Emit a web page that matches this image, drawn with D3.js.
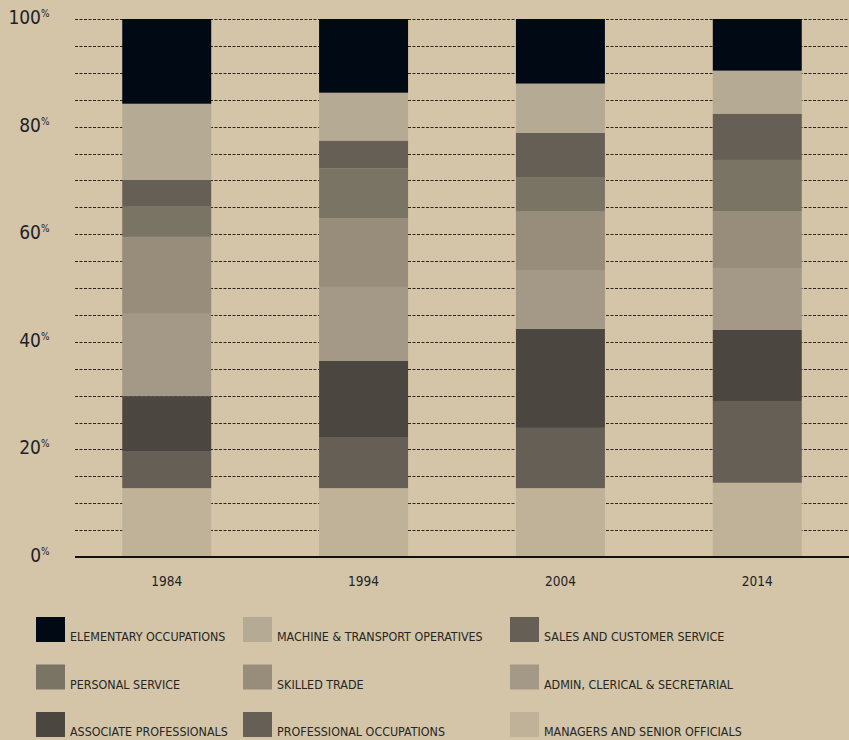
<!DOCTYPE html>
<html>
<head>
<meta charset="utf-8">
<script src="https://cdn.jsdelivr.net/npm/d3@7"></script>
<style>
  html, body { margin: 0; padding: 0; background: #d4c5a8; }
  svg { display: block; }
</style>
</head>
<body>
<svg width="849" height="740"></svg>
<script>
const years = ["1984", "1994", "2004", "2014"];

// stacked bottom to top
const categories = [
    "MANAGERS AND SENIOR OFFICIALS",
    "PROFESSIONAL OCCUPATIONS",
    "ASSOCIATE PROFESSIONALS",
    "ADMIN, CLERICAL & SECRETARIAL",
    "SKILLED TRADE",
    "PERSONAL SERVICE",
    "SALES AND CUSTOMER SERVICE",
    "MACHINE & TRANSPORT OPERATIVES",
    "ELEMENTARY OCCUPATIONS"
];

const managers     = [12.8, 12.8, 12.8, 13.8];
const professional = [6.9, 9.5, 11.2, 15.2];
const associate    = [10.2, 14.2, 18.4, 13.2];
const admin        = [15.3, 13.7, 10.8, 11.5];
const skilled      = [14.3, 12.8, 11.0, 10.6];
const personal     = [5.6, 9.2, 6.3, 9.5];
const sales        = [5.0, 5.2, 8.35, 8.6];
const machine      = [14.15, 8.9, 9.15, 8.0];
const elementary   = [15.75, 13.7, 12.0, 9.6];

const seriesValues = [managers, professional, associate, admin, skilled, personal, sales, machine, elementary];

const colors = ["#bfb299", "#665f55", "#4b4740", "#a39986", "#988d7a", "#7a7464", "#665f55", "#b5aa93", "#010a14"];

// legend reads left to right, top to bottom
const legendOrder = [
    "ELEMENTARY OCCUPATIONS", "MACHINE & TRANSPORT OPERATIVES", "SALES AND CUSTOMER SERVICE",
    "PERSONAL SERVICE", "SKILLED TRADE", "ADMIN, CLERICAL & SECRETARIAL",
    "ASSOCIATE PROFESSIONALS", "PROFESSIONAL OCCUPATIONS", "MANAGERS AND SENIOR OFFICIALS"
];

const yTicks = [0, 20, 40, 60, 80, 100];

const svg = d3.select("svg");
const font = "'DejaVu Sans Condensed', 'Liberation Sans Narrow', sans-serif";

const rows = years.map((yr, i) => {
    const r = { year: yr };
    categories.forEach((c, k) => r[c] = seriesValues[k][i]);
    return r;
});
const stacked = d3.stack().keys(categories)(rows);

const x = d3.scaleBand().domain(years).range([75, 849]).paddingInner(0.548).paddingOuter(0.24);
const y = d3.scaleLinear().domain([0, 100]).range([557, 19]);
const color = d3.scaleOrdinal().domain(categories).range(colors);

// dashed grid
svg.append("g")
    .selectAll("line")
    .data(d3.range(5, 101, 5))
    .join("line")
    .attr("x1", 75).attr("x2", 849)
    .attr("y1", d => Math.round(y(d)) + 0.5)
    .attr("y2", d => Math.round(y(d)) + 0.5)
    .attr("stroke", "#2a2621")
    .attr("stroke-width", 1)
    .attr("stroke-dasharray", "3,1.5");

// bars
svg.append("g")
    .selectAll("g")
    .data(stacked)
    .join("g")
    .attr("fill", d => color(d.key))
    .selectAll("rect")
    .data(d => d)
    .join("rect")
    .attr("x", d => x(d.data.year))
    .attr("width", x.bandwidth())
    .attr("y", d => y(d[1]))
    .attr("height", d => y(d[0]) - y(d[1]));

// baseline
svg.append("line")
    .attr("x1", 75).attr("x2", 849)
    .attr("y1", y(0)).attr("y2", y(0))
    .attr("stroke", "#111")
    .attr("stroke-width", 2);

// y labels
svg.append("g")
    .selectAll("text")
    .data(yTicks)
    .join("text")
    .attr("x", 41)
    .attr("y", d => y(d) + 5)
    .attr("text-anchor", "end")
    .attr("font-family", font)
    .attr("font-size", 19)
    .attr("font-weight", 300)
    .attr("fill", "#1e2228")
    .text(d => d);
svg.append("g")
    .selectAll("text")
    .data(yTicks)
    .join("text")
    .attr("x", 41)
    .attr("y", d => y(d) - 2)
    .attr("font-family", font)
    .attr("font-size", 10)
    .attr("fill", "#1e2228")
    .text("%");

// x labels
svg.append("g")
    .selectAll("text")
    .data(years)
    .join("text")
    .attr("x", d => x(d) + x.bandwidth() / 2)
    .attr("y", 586)
    .attr("text-anchor", "middle")
    .attr("font-family", font)
    .attr("font-size", 13.5)
    .attr("fill", "#222")
    .text(d => d);

// legend
const legend = svg.append("g")
    .selectAll("g")
    .data(legendOrder)
    .join("g")
    .attr("transform", (d, i) => `translate(${[36, 243, 510][i % 3]},${617 + Math.floor(i / 3) * 47.5})`);
legend.append("rect")
    .attr("width", 29).attr("height", 25)
    .attr("fill", d => color(d));
legend.append("text")
    .attr("x", 34)
    .attr("y", 24)
    .attr("font-family", font)
    .attr("font-size", 12.4)
    .attr("fill", "#262524")
    .text(d => d);
</script>
</body>
</html>
